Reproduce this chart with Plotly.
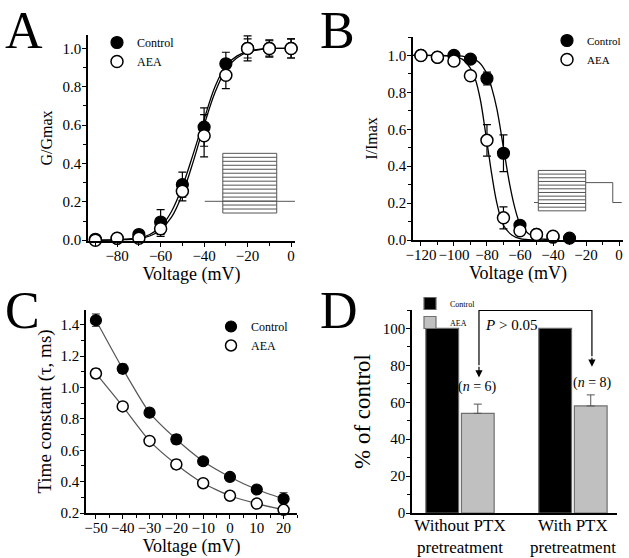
import plotly.graph_objects as go

# ---------------- Panel A: activation ----------------
a_v = [-90, -80, -70, -60, -50, -40, -30, -20, -10, 0]
a_ctrl = [0.005, 0.01, 0.03, 0.095, 0.29, 0.59, 0.92, 1.0, 1.0, 1.0]
a_ctrl_err = [0.01, 0.01, 0.02, 0.065, 0.065, 0.10, 0.06, 0.05, 0.04, 0.05]
a_aea = [0.0, 0.01, 0.01, 0.06, 0.255, 0.545, 0.86, 1.0, 1.0, 1.0]
a_aea_err = [0.01, 0.01, 0.02, 0.04, 0.05, 0.11, 0.07, 0.065, 0.045, 0.05]
a_fit_v = [-90, -80, -70, -65, -60, -55, -50, -45, -40, -35, -30, -25, -20, -15, -10, -5, 0]
a_fit_ctrl = [0.0, 0.003, 0.012, 0.03, 0.07, 0.15, 0.28, 0.45, 0.63, 0.80, 0.91, 0.96, 0.985, 0.995, 1.0, 1.0, 1.0]
a_fit_aea = [0.0, 0.002, 0.009, 0.022, 0.055, 0.12, 0.24, 0.41, 0.60, 0.77, 0.89, 0.95, 0.98, 0.993, 1.0, 1.0, 1.0]

# ---------------- Panel B: inactivation ----------------
b_v_ctrl = [-120, -110, -100, -90, -80, -70, -60, -50, -40, -30]
b_ctrl = [1.0, 0.99, 1.0, 0.98, 0.875, 0.47, 0.08, 0.03, 0.015, 0.01]
b_ctrl_err = [0.01, 0.01, 0.01, 0.01, 0.035, 0.10, 0.02, 0.01, 0.01, 0.01]
b_v_aea = [-120, -110, -100, -90, -80, -70, -60, -50, -40]
b_aea = [1.0, 0.99, 0.97, 0.89, 0.54, 0.12, 0.05, 0.03, 0.02]
b_aea_err = [0.01, 0.02, 0.02, 0.02, 0.085, 0.06, 0.02, 0.01, 0.01]
b_fit_v_ctrl = [-125, -100, -95, -90, -85, -80, -77, -74, -70, -66, -63, -60, -55, -50, -45, -40]
b_fit_ctrl = [1.0, 0.999, 0.996, 0.988, 0.965, 0.90, 0.82, 0.71, 0.50, 0.29, 0.17, 0.09, 0.035, 0.012, 0.004, 0.001]
b_fit_v_aea = [-125, -100, -95, -90, -87, -84, -81, -79, -77, -74, -70, -65, -60, -55, -50, -40]
b_fit_aea = [1.0, 0.994, 0.98, 0.93, 0.87, 0.76, 0.59, 0.47, 0.35, 0.20, 0.08, 0.027, 0.007, 0.002, 0.0, 0.0]

# ---------------- Panel C: time constants ----------------
c_v = [-50, -40, -30, -20, -10, 0, 10, 20]
c_ctrl = [1.43, 1.12, 0.84, 0.67, 0.53, 0.43, 0.35, 0.29]
c_ctrl_err = [0.04, 0.03, 0.02, 0.03, 0.02, 0.02, 0.02, 0.04]
c_aea = [1.09, 0.88, 0.66, 0.51, 0.39, 0.31, 0.26, 0.22]
c_aea_err = [0.03, 0.02, 0.02, 0.03, 0.02, 0.02, 0.02, 0.02]

# ---------------- Panel D: bars ----------------
d_cats = ["Without PTX<br>pretreatment", "With PTX<br>pretreatment"]
d_ctrl = [100, 100]
d_aea = [54, 58]
d_aea_err = [5, 6]

FONT = "Liberation Serif, Times New Roman, serif"
W, H = 629, 558


def px_dom(x0, x1):
    return [x0 / W, x1 / W]


def py_dom(y0, y1):
    return [1 - y1 / H, 1 - y0 / H]


fig = go.Figure()

filled = dict(color="black", size=12, line=dict(color="black", width=1.2))
opened = dict(color="white", size=12, line=dict(color="black", width=1.5))
errs = dict(color="black", thickness=1.2, width=4)
fitline = dict(color="black", width=1.3, shape="spline")

# A
fig.add_trace(go.Scatter(x=a_fit_v, y=a_fit_ctrl, mode="lines", line=fitline,
                         showlegend=False, xaxis="x", yaxis="y", hoverinfo="skip"))
fig.add_trace(go.Scatter(x=a_fit_v, y=a_fit_aea, mode="lines", line=fitline,
                         showlegend=False, xaxis="x", yaxis="y", hoverinfo="skip"))
fig.add_trace(go.Scatter(x=a_v, y=a_ctrl, mode="markers", marker=filled, name="Control",
                         error_y=dict(type="data", array=a_ctrl_err, **errs), cliponaxis=False,
                         xaxis="x", yaxis="y", legend="legend"))
fig.add_trace(go.Scatter(x=a_v, y=a_aea, mode="markers", marker=opened, name="AEA",
                         error_y=dict(type="data", array=a_aea_err, **errs), cliponaxis=False,
                         xaxis="x", yaxis="y", legend="legend"))

# B
fig.add_trace(go.Scatter(x=b_fit_v_ctrl, y=b_fit_ctrl, mode="lines", line=fitline,
                         showlegend=False, xaxis="x2", yaxis="y2", hoverinfo="skip"))
fig.add_trace(go.Scatter(x=b_fit_v_aea, y=b_fit_aea, mode="lines", line=fitline,
                         showlegend=False, xaxis="x2", yaxis="y2", hoverinfo="skip"))
fig.add_trace(go.Scatter(x=b_v_ctrl, y=b_ctrl, mode="markers", marker=filled, name="Control",
                         error_y=dict(type="data", array=b_ctrl_err, **errs), cliponaxis=False,
                         xaxis="x2", yaxis="y2", legend="legend2"))
fig.add_trace(go.Scatter(x=b_v_aea, y=b_aea, mode="markers", marker=opened, name="AEA",
                         error_y=dict(type="data", array=b_aea_err, **errs), cliponaxis=False,
                         xaxis="x2", yaxis="y2", legend="legend2"))

# C
cline = dict(color="#555555", width=1.2, shape="spline", smoothing=0.6)
cerr = dict(color="#444444", thickness=1, width=4)
fig.add_trace(go.Scatter(x=c_v, y=c_ctrl, mode="lines", line=cline, showlegend=False,
                         xaxis="x3", yaxis="y3", hoverinfo="skip"))
fig.add_trace(go.Scatter(x=c_v, y=c_aea, mode="lines", line=cline, showlegend=False,
                         xaxis="x3", yaxis="y3", hoverinfo="skip"))
fig.add_trace(go.Scatter(x=c_v, y=c_ctrl, mode="markers", marker=dict(filled, size=11), name="Control",
                         error_y=dict(type="data", array=c_ctrl_err, **cerr),
                         cliponaxis=False, xaxis="x3", yaxis="y3", legend="legend3"))
fig.add_trace(go.Scatter(x=c_v, y=c_aea, mode="markers", marker=dict(opened, size=11), name="AEA",
                         error_y=dict(type="data", array=c_aea_err, **cerr),
                         cliponaxis=False, xaxis="x3", yaxis="y3", legend="legend3"))

# D
fig.add_trace(go.Bar(x=d_cats, y=d_ctrl, name="Control", marker=dict(color="black", line=dict(color="#666666", width=1.2)),
                     xaxis="x4", yaxis="y4", legend="legend4"))
fig.add_trace(go.Bar(x=d_cats, y=d_aea, name="AEA", marker=dict(color="#c0c0c0", line=dict(color="#707070", width=1.2)),
                     error_y=dict(type="data", array=d_aea_err, arrayminus=[0, 0], symmetric=False,
                                  color="#555555", thickness=1, width=4),
                     xaxis="x4", yaxis="y4", legend="legend4"))

tickfont = dict(family=FONT, size=15, color="black")


def ax(domain, rng, dtick, minor, anchor, title, tsize=17, standoff=6, fmt=None, lblshift=0):
    d = dict(domain=domain, range=rng, anchor=anchor, showline=True, linecolor="black", linewidth=1.5,
             ticks="outside", ticklen=4, tickwidth=1.2, tickcolor="black", showgrid=False, zeroline=False,
             tickfont=tickfont, automargin=False, mirror=False, ticklabelstandoff=lblshift,
             title=dict(text=title, font=dict(family=FONT, size=tsize, color="black"), standoff=standoff))
    if dtick is not None:
        d["dtick"] = dtick
        d["tick0"] = 0
    if minor is not None:
        d["minor"] = dict(dtick=minor, tick0=0, ticks="outside", ticklen=3, tickcolor="black", tickwidth=1,
                          showgrid=False)
    if fmt is not None:
        d["tickformat"] = fmt
    return d


layout = dict(
    width=W, height=H, margin=dict(l=0, r=0, t=0, b=0),
    paper_bgcolor="white", plot_bgcolor="white",
    font=dict(family=FONT, color="black"),
    barmode="group", bargap=0.37, bargroupgap=0.08,
    xaxis=ax(px_dom(88, 295), [-93.4, 1.8], 20, 10, "y", "Voltage (mV)", 18, 2, None, -4),
    yaxis=ax(py_dom(35, 241), [-0.004, 1.07], 0.2, 0.1, "x", "G/Gmax", 16, 6, ".1f", -2),
    xaxis2=ax(px_dom(413, 623), [-124.8, 2.4], 20, 10, "y2", "Voltage (mV)", 18, 1, None, -4),
    yaxis2=ax(py_dom(37, 240), [0, 1.1], 0.2, 0.1, "x2", "I/Imax", 16, 6, ".1f", -2),
    xaxis3=ax(px_dom(86, 297), [-53.7, 25], 10, 5, "y3", "Voltage (mV)", 18, 2, None, -4),
    yaxis3=ax(py_dom(310, 513), [0.2, 1.495], 0.2, 0.1, "x3", "Time constant (\u03c4, ms)", 19, 4, ".1f", -2),
    xaxis4=ax(px_dom(412, 617), [-0.425, 1.39], None, None, "y4", "", 17, 6, None, -4),
    yaxis4=ax(py_dom(310, 513), [0, 110], 20, 10, "x4", "% of control", 23, 6, None, -2),
)
layout["xaxis4"]["ticks"] = ""
layout["xaxis4"]["tickfont"] = dict(family=FONT, size=17, color="black")
layout["xaxis4"]["type"] = "category"

legfont = dict(family=FONT, size=12, color="black")
layout["legend"] = dict(x=97 / W, y=1 - 28 / H, xanchor="left", yanchor="top", font=legfont,
                        bgcolor="rgba(0,0,0,0)", tracegroupgap=0, itemwidth=30)
layout["legend2"] = dict(x=547 / W, y=1 - 26 / H, xanchor="left", yanchor="top", font=dict(legfont, size=11),
                         bgcolor="rgba(0,0,0,0)", itemwidth=30)
layout["legend3"] = dict(x=211 / W, y=1 - 312 / H, xanchor="left", yanchor="top", font=legfont,
                         bgcolor="rgba(0,0,0,0)", itemwidth=30)
layout["legend4"] = dict(x=410 / W, y=1 - 289 / H, xanchor="left", yanchor="top", font=dict(legfont, size=8),
                         bgcolor="rgba(0,0,0,0)", itemwidth=30, tracegroupgap=0)

fig.update_layout(**layout)

# Panel letters
for letter, x, y in [("A", 3, 0), ("B", 318, 0), ("C", 3, 280), ("D", 318, 280)]:
    fig.add_annotation(text=letter, x=x / W, y=1 - y / H, xref="paper", yref="paper", xanchor="left",
                       yanchor="top", showarrow=False, font=dict(family=FONT, size=52, color="black"))

shapes = []
# Inset A: voltage protocol
a_top, a_bot, a_l, a_r = 0.453, 0.142, -31.4, -6.6
n_a = 16
for i in range(n_a):
    yy = a_bot + (a_top - a_bot) * i / (n_a - 1)
    shapes.append(dict(type="line", xref="x", yref="y", x0=a_l, x1=a_r, y0=yy, y1=yy,
                       line=dict(color="#555555", width=1)))
for xx in (a_l, a_r):
    shapes.append(dict(type="line", xref="x", yref="y", x0=xx, x1=xx, y0=a_bot, y1=a_top,
                       line=dict(color="#555555", width=1)))
shapes.append(dict(type="line", xref="x", yref="y", x0=-39.7, x1=2.5, y0=0.203, y1=0.203,
                   line=dict(color="#555555", width=1)))

# Inset B
b_top, b_bot, b_l, b_r = 0.377, 0.158, -48.9, -20.2
n_b = 12
for i in range(n_b):
    yy = b_bot + (b_top - b_bot) * i / (n_b - 1)
    shapes.append(dict(type="line", xref="x2", yref="y2", x0=b_l, x1=b_r, y0=yy, y1=yy,
                       line=dict(color="#555555", width=1)))
for xx in (b_l, b_r):
    shapes.append(dict(type="line", xref="x2", yref="y2", x0=xx, x1=xx, y0=b_bot, y1=b_top,
                       line=dict(color="#555555", width=1)))
shapes.append(dict(type="path", xref="x2", yref="y2",
                   path="M -20.2,0.311 L -3.8,0.311 L -3.8,0.203 L 1.6,0.203",
                   line=dict(color="#555555", width=1)))
shapes.append(dict(type="line", xref="x2", yref="y2", x0=-51.5, x1=b_l, y0=0.203, y1=0.203,
                   line=dict(color="#555555", width=1)))

# Panel D bracket
shapes.append(dict(type="path", xref="x4", yref="y4",
                   path="M 0.168,80 L 0.168,109.8 L 1.168,109.8 L 1.168,85",
                   line=dict(color="black", width=1.2)))
fig.update_layout(shapes=shapes)

for xx, ytip, ytail in [(0.168, 73.4, 80), (1.168, 79.3, 85)]:
    fig.add_annotation(x=xx, y=ytip, ax=xx, ay=ytail, xref="x4", yref="y4", axref="x4", ayref="y4",
                       showarrow=True, arrowhead=2, arrowsize=1.2, arrowwidth=1.2, arrowcolor="black", text="")

fig.add_annotation(x=0.451, y=102, xref="x4", yref="y4", text="<i>P</i> > 0.05", showarrow=False,
                   font=dict(family=FONT, size=15, color="black"))
fig.add_annotation(x=0.159, y=68.5, xref="x4", yref="y4", text="(<i>n</i> = 6)", showarrow=False,
                   font=dict(family=FONT, size=14, color="black"))
fig.add_annotation(x=1.177, y=70.5, xref="x4", yref="y4", text="(<i>n</i> = 8)", showarrow=False,
                   font=dict(family=FONT, size=14, color="black"))

fig.write_html("out.html", config={"displayModeBar": False},
               post_script="document.body.style.margin='0';document.body.style.overflow='hidden';")
